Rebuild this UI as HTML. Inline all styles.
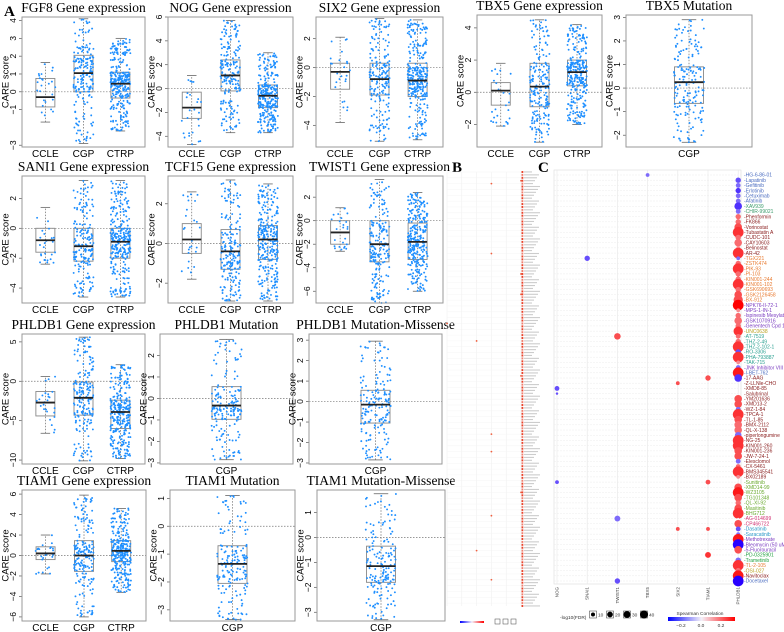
<!DOCTYPE html>
<html><head><meta charset="utf-8"><style>
html,body{margin:0;padding:0;background:#fff;width:784px;height:632px;overflow:hidden}
svg{display:block}
</style></head><body>
<svg id="fig" width="784" height="632" viewBox="0 0 784 632" xmlns="http://www.w3.org/2000/svg" font-family="Liberation Sans, sans-serif">
<text x="4" y="16" font-family="Liberation Serif, serif" font-weight="bold" font-size="15">A</text>
<text x="452" y="172" font-family="Liberation Serif, serif" font-weight="bold" font-size="15">B</text>
<text x="538" y="172" font-family="Liberation Serif, serif" font-weight="bold" font-size="15">C</text>
</svg>
<script>
// ---------- Panel A data ----------
const panelTitles = ["FGF8 Gene expression","NOG Gene expression","SIX2 Gene expression","TBX5 Gene expression","TBX5 Mutation",
 "SANI1 Gene expression","TCF15 Gene expression","TWIST1 Gene expression",
 "PHLDB1 Gene expression","PHLDB1 Mutation","PHLDB1 Mutation-Missense",
 "TIAM1 Gene expression","TIAM1 Mutation","TIAM1 Mutation-Missense"];
const panelGroups = [["CCLE","CGP","CTRP"],["CCLE","CGP","CTRP"],["CCLE","CGP","CTRP"],["CCLE","CGP","CTRP"],["CGP"],
 ["CCLE","CGP","CTRP"],["CCLE","CGP","CTRP"],["CCLE","CGP","CTRP"],
 ["CCLE","CGP","CTRP"],["CGP"],["CGP"],["CCLE","CGP","CTRP"],["CGP"],["CGP"]];
const panelYLim = [[-3.1,4.2],[-4.9,6],[-5.5,3.5],[-3.4,4.8],[-2.5,3.1],[-5,3.5],[-3,3.4],[-7,3.8],[-10.5,6],[-3.05,3],[-3.05,3.3],[-6.4,6.4],[-3.4,1.3],[-3.35,1.9]];
const panelTicks = [[-3,-1,0,1,2,3,4],[-4,-2,0,2,4,6],[-4,-2,0,2],[-2,0,2,4],[-2,-1,0,1,2,3],[-4,-2,0,2],[-2,0,2],[-6,-4,-2,0,2],[-10,-5,0,5],[-3,-2,-1,0,1,2],[-3,-2,-1,0,1,2,3],[-6,-4,-2,0,2,4,6],[-3,-2,-1,0,1],[-3,-2,-1,0,1]];
// box stats: [min, q1, median, q3, max]
const panelStats = [
 [[-1.7,-0.85,-0.3,0.75,1.65],[-2.9,0,1.05,2.05,4.1],[-2.2,-0.35,0.45,1.1,3]],
 [[-4.7,-2.5,-1.6,-0.3,1.1],[-3.7,-0.2,1.1,2.4,5.7],[-3.7,-1.6,-0.6,0.3,3]],
 [[-3.8,-1.5,-0.3,0.3,2.1],[-5.1,-1.9,-0.8,0.3,3.4],[-5,-2,-0.9,0.3,3.3]],
 [[-2.1,-0.8,0.1,0.6,1.8],[-3.1,-0.9,0.35,1.8,4.5],[-2,0.4,1.25,2,4.2]],
 [[-2.3,-0.65,0.25,0.9,2.9]],
 [[-2.4,-1.6,-0.8,0,1.4],[-4.6,-2.2,-1.2,0,3.2],[-4.6,-2,-0.9,0,3.2]],
 [[-1.8,-0.5,0.2,1,2.6],[-2.9,-1.3,-0.4,0.7,3.2],[-2.9,-0.8,0.2,0.9,3]],
 [[-2.6,-2,-1,0,1.1],[-7,-3.5,-2,0,3.5],[-6,-3.3,-1.8,-0.2,2.4]],
 [[-6.6,-4.4,-2.7,-1.3,0.6],[-10.1,-4.3,-2.1,-0.1,5.6],[-9.8,-6,-3.9,-2.4,2.1]],
 [[-2.85,-0.97,-0.33,0.55,2.75]],
 [[-2.85,-1.05,-0.15,0.55,2.95]],
 [[-1.8,-0.4,0.2,0.85,2],[-6,-1.55,0,1.45,5.9],[-3.6,-0.6,0.45,1.45,4.6]],
 [[-3.35,-2.05,-1.35,-0.7,1.1]],
 [[-3.3,-1.8,-1.15,-0.35,1.75]]];
const groupCounts = {CCLE:25, CGP:190, CTRP:290};
// layout boxes [x0,y0,x1,y1]
const panelRects = [[22,17,145,147],[168,17,293,147],[316,17,443,147],[477,15,602,147],[626,15,752,147],
 [22,176,145,303],[168,176,293,303],[316,176,443,303],
 [22,334,145,464],[160,334,293,464],[309,334,442,464],
 [22,490,146,621],[170,490,295,621],[317,490,445,621]];

const NS="http://www.w3.org/2000/svg";
const svg=document.getElementById('fig');
function mk(tag,attrs,parent){const e=document.createElementNS(NS,tag);for(const k in attrs)e.setAttribute(k,attrs[k]);(parent||svg).appendChild(e);return e;}
let seed=12345;function rnd(){seed=(seed*1103515245+12345)%2147483648;return seed/2147483648;}
function quant(s,u){ // piecewise linear through quartiles
 const p=[0,0.25,0.5,0.75,1];for(let i=0;i<4;i++){if(u<=p[i+1]){const t=(u-p[i])/(p[i+1]-p[i]);return s[i]+t*(s[i+1]-s[i]);}}return s[4];}

panelTitles.forEach((title,pi)=>{
 const [x0,y0,x1,y1]=panelRects[pi];const [lo,hi]=panelYLim[pi];
 const g=mk('g',{});
 
 
 const ys=v=>y1-(v-lo)/(hi-lo)*(y1-y0);
 const t=mk('text',{x:(x0+x1)/2,y:y0-5,'text-anchor':'middle','font-family':'Liberation Serif, serif','font-size':13.5},g);t.textContent=title;
 
 // zero line
 mk('line',{x1:x0,x2:x1,y1:ys(0),y2:ys(0),stroke:'#777','stroke-width':0.7,'stroke-dasharray':'1.5,1.5'},g);
 // y ticks
 panelTicks[pi].forEach(v=>{
  const y=ys(v);mk('line',{x1:x0-3,x2:x0,y1:y,y2:y,stroke:'#555','stroke-width':0.7},g);
  const tt=mk('text',{x:0,y:0,'font-size':8.5,'text-anchor':'middle',transform:`translate(${x0-6},${y}) rotate(-90)`},g);tt.textContent=v<0?'\u2212'+(-v):String(v);
  
 });
 const yl=mk('text',{'font-size':9.5,'text-anchor':'middle',transform:`translate(${x0-13.5},${(y0+y1)/2}) rotate(-90)`},g);yl.textContent='CARE score';
 
 const groups=panelGroups[pi];const w=x1-x0;
 const centers=groups.length===3?[0.19,0.5,0.8]:[0.5];const bw=groups.length===3?19:29;
 groups.forEach((gn,gi)=>{
  const s=panelStats[pi][gi];const cx=x0+w*centers[gi];
  const bg=mk('g',{},g);
  
  
  mk('line',{x1:cx,x2:cx,y1:ys(s[0]),y2:ys(s[4]),stroke:'#666','stroke-width':0.7,'stroke-dasharray':'1.5,1.5'},bg);
  [s[0],s[4]].forEach(v=>mk('line',{x1:cx-bw/4,x2:cx+bw/4,y1:ys(v),y2:ys(v),stroke:'#666','stroke-width':0.8},bg));
  mk('rect',{x:cx-bw/2,y:ys(s[3]),width:bw,height:ys(s[1])-ys(s[3]),fill:'none',stroke:'#888','stroke-width':0.9},bg);
  const n=groupCounts[gn]*(groups.length===1?0.9:1);
  for(let k=0;k<n;k++){const u=rnd();const v=quant(s,u);const jx=(rnd()-0.5)*bw*1.05;
   mk('circle',{cx:cx+jx,cy:ys(v),r:0.95,fill:'#1e8fff'},bg);}
  mk('line',{x1:cx-bw/2,x2:cx+bw/2,y1:ys(s[2]),y2:ys(s[2]),stroke:'#222','stroke-width':1.8},bg);
  const xl=mk('text',{x:cx,y:y1+10,'font-size':10,'text-anchor':'middle'},g);xl.textContent=gn;
  
 });
 mk('rect',{x:x0,y:y0,width:w,height:y1-y0,fill:'none',stroke:'#999','stroke-width':1},g);
});

// ---------- Panel B ----------
const bRowCount = 150;
const bDotRows = [3,4,28,35,42,52,58,70,90,96,110,118,130,140];
const bDotCols = [5,3,3,5,5,0,2,5,3,3,5,3,2,3];
(function(){
 const g=mk('g',{});
 const x0=447,x1=521,y0=172,y1=606;const colX=i=>x0+i*(x1-x0)/5;const rowY=r=>y0+r*(y1-y0)/(bRowCount-1);
 for(let c=0;c<6;c++)mk('line',{x1:colX(c),x2:colX(c),y1:y0,y2:y1,stroke:'#eee','stroke-width':0.5},g);
 for(let r=0;r<bRowCount;r+=2)mk('line',{x1:x0,x2:x1,y1:rowY(r),y2:rowY(r),stroke:'#f3f3f3','stroke-width':0.4},g);
 bDotRows.forEach((r,i)=>{const d=mk('circle',{cx:colX(bDotCols[i]),cy:rowY(r),r:0.9,fill:'#f06040'},g);});
 for(let r=0;r<bRowCount;r++){mk('rect',{x:x1+0.5,y:rowY(r)-1,width:1.8,height:2,fill:(r%3===1?'#f08070':'#e8442c')},g);
  mk('rect',{x:x1+3,y:rowY(r)-0.6,width:8+((r*7)%9),height:1.1,fill:'#ccc'},g);}
 mk('rect',{x:460,y:621,width:24,height:2,fill:'url(#grad)'},g);
 [495,503,511].forEach(x=>mk('rect',{x:x,y:619,width:5,height:5,fill:'none',stroke:'#444','stroke-width':0.5},g));
})();

// ---------- Panel C data ----------
const cGenes = ["NOG","SNAI1","TWIST1","TBX5","SIX2","TIAM1","PHLDB1"];
const cDrugs = ["HG-6-86-01","Lapatinib","Gefitinib","Erlotinib","Cetuximab","Afatinib","XAV939","CHIR-99021","Phenformin","FK866","Vorinostat","Tubastatin A","CUDC-101","CAY10603","Belinostat","AR-42","TGX221","ZSTK474","PIK-93","PI-103","KIN001-244","KIN001-102","GSK690693","GSK2126458","BX-912","NPK76-II-72-1","MPS-1-IN-1","Ispinesib Mesylate","GSK1070916","Genentech Cpd 10","UNC0638","AT-7519","THZ-2-49","THZ-2-102-1","RO-3306","PHA-793887","TAK-715","JNK Inhibitor VIII","I-BET-762","17-AAG","Z-LLNle-CHO","XMD8-85","Salubrinal","YM201636","XMD13-2","WZ-1-84","TPCA-1","TL-1-85","BMX-2112","QL-X-138","piperlongumine","NG-25","KIN001-260","KIN001-236","JW-7-24-1","Elesclomol","CX-5461","BMS345541","BX02189","Sunitinib","XMD14-99","WZ3105","TG101348","QL-XI-92","Masitinib","BHG712","AG-014699","CP466722","Dasatinib","Saracatinib","Methotrexate","Bleomycin (50 uM)","5-Fluorouracil","PD-0325901","Trametinib","TL-2-105","OSI-027","Navitoclax","Docetaxel"];
const cLabelCat = [0,0,0,0,0,0,1,1,2,2,2,2,2,2,2,2,3,3,3,3,3,3,3,3,3,4,4,4,4,4,5,6,6,6,6,6,6,4,0,2,2,2,2,2,2,2,2,2,2,2,2,2,2,2,2,2,2,2,2,7,7,7,7,7,7,7,8,8,9,9,4,4,4,10,10,3,5,2,0];
const cCatColors = ["#4a6cc0","#3a9a6a","#8b2020","#e87a30","#7a3cc0","#b8a020","#2aa090","#6aaa30","#d03070","#2a98c8","#20a040"];
// PHLDB1 column correlation & -log10(FDR)
const phldbRho = [0,-0.2,-0.15,-0.25,-0.15,-0.15,-0.25,-0.15,0.15,0.15,0.2,0.25,0.15,0.15,0.1,0.25,-0.15,0.15,0.25,0.15,0.15,0.25,0.15,0.2,0.2,0.35,0.1,0.15,0.15,0.15,0.25,0.15,0.15,0.25,-0.2,0.25,0.1,-0.15,0.3,-0.25,0,0,0,0.2,0.2,-0.15,0.25,0.2,0.15,0.15,-0.15,0.25,0.25,0.2,0.2,-0.15,0.15,0.25,0.1,0,0.2,0.3,0.2,0.15,0.2,0.25,0,0.2,-0.2,-0.15,0.3,-0.35,0.2,0,-0.15,0.25,0.15,0.3,-0.35];
const phldbFdr = [1,10,8,10,8,8,20,8,10,10,20,40,10,20,5,40,5,10,40,10,10,40,10,20,30,40,5,10,20,10,30,8,10,40,10,40,5,8,40,20,1,1,1,20,20,8,40,20,20,20,15,40,40,20,20,8,8,40,5,1,20,40,20,10,20,40,1,20,8,5,40,40,20,1,10,40,10,40,40];
// other genes: bubbles [geneIndex, drugIndex]
const otherGene = [3,1,2,5,4,0,0,0,5,2,4,5,5,2];
const otherDrug = [0,16,31,39,40,41,42,59,59,66,68,68,73,78];
const otherRho = [-0.15,-0.2,0.2,0.2,0.2,-0.2,-0.2,-0.2,0.2,-0.15,0.2,0.2,0.25,-0.2];
const otherFdr = [5,10,15,10,5,8,2,5,8,12,5,5,12,10];
const sizeLegend = [10,20,30,40];

const defs=mk('defs',{});
const lg=mk('linearGradient',{id:'grad',x1:0,x2:1,y1:0,y2:0},defs);
mk('stop',{offset:0,'stop-color':'#0000ff'},lg);mk('stop',{offset:0.5,'stop-color':'#f4f0f8'},lg);mk('stop',{offset:1,'stop-color':'#ff0000'},lg);
function rhoColor(v){const t=Math.max(-1,Math.min(1,v/0.35));
 if(t>=0){return `rgb(${Math.round(244+11*t)},${Math.round(240-240*Math.pow(t,0.7))},${Math.round(248-248*Math.pow(t,0.7))})`;}
 const a=-t;return `rgb(${Math.round(244-244*Math.pow(a,0.7)+40*a)},${Math.round(240-240*Math.pow(a,0.7))},${Math.round(248+7*a)})`;}
const fdrR=f=>0.85*Math.sqrt(f);
(function(){
 const g=mk('g',{});
 const x0=554,x1=741,y0=170,y1=584;
 const colX=i=>557+i*30.2;const rowY=r=>175+r*(581-175)/(cDrugs.length-1);
 mk('rect',{x:x0,y:y0,width:x1-x0,height:y1-y0,fill:'#fff',stroke:'#ddd','stroke-width':0.6},g);
 cGenes.forEach((gn,i)=>{mk('line',{x1:colX(i),x2:colX(i),y1:y0,y2:y1,stroke:'#e6e6e6','stroke-width':0.6},g);
  const t=mk('text',{'font-size':4.5,'text-anchor':'end',fill:'#444',transform:`translate(${colX(i)+1.5},${y1+3}) rotate(-90)`},g);t.textContent=gn;
  });
 cDrugs.forEach((d,r)=>{const y=rowY(r);
  mk('line',{x1:x0,x2:x1,y1:y,y2:y,stroke:'#ececec','stroke-width':0.5,'stroke-dasharray':'2,1'},g);
  const t=mk('text',{x:744,y:y+1.7,'font-size':5,fill:cCatColors[cLabelCat[r]]},g);t.textContent='-'+d;
  
  const c=mk('circle',{cx:colX(6),cy:y,r:fdrR(phldbFdr[r]),fill:rhoColor(phldbRho[r])},g);
  });
 otherGene.forEach((gi,k)=>{const c=mk('circle',{cx:colX(gi),cy:rowY(otherDrug[k]),r:fdrR(otherFdr[k]),fill:rhoColor(otherRho[k])},g);
  });
 // legends
 const lt=mk('text',{x:560,y:619,'font-size':4.8,fill:'#333'},g);lt.textContent='-log10(FDR)';
 
 sizeLegend.forEach((v,i)=>{const x=593+i*17;mk('rect',{x:x-3.5,y:611,width:7,height:7,fill:'#fff',stroke:'#333','stroke-width':0.5},g);
  const c=mk('circle',{cx:x,cy:614.5,r:fdrR(v)*0.75,fill:'#000'},g);
  const t=mk('text',{x:x+5,y:616.5,'font-size':4.8,fill:'#333'},g);t.textContent=v;});
 const ct=mk('text',{x:700,y:615,'font-size':4.8,'text-anchor':'middle',fill:'#333'},g);ct.textContent='Spearman Correlation';
 
 const cb=mk('rect',{x:668,y:617,width:67,height:4,fill:'url(#grad)'},g);
 [['\u22120.2',681],['0.0',701],['0.2',721]].forEach(([s,x])=>{const t=mk('text',{x:x,y:627,'font-size':4.8,'text-anchor':'middle',fill:'#333'},g);t.textContent=s;});
})();
</script>
</body></html>
